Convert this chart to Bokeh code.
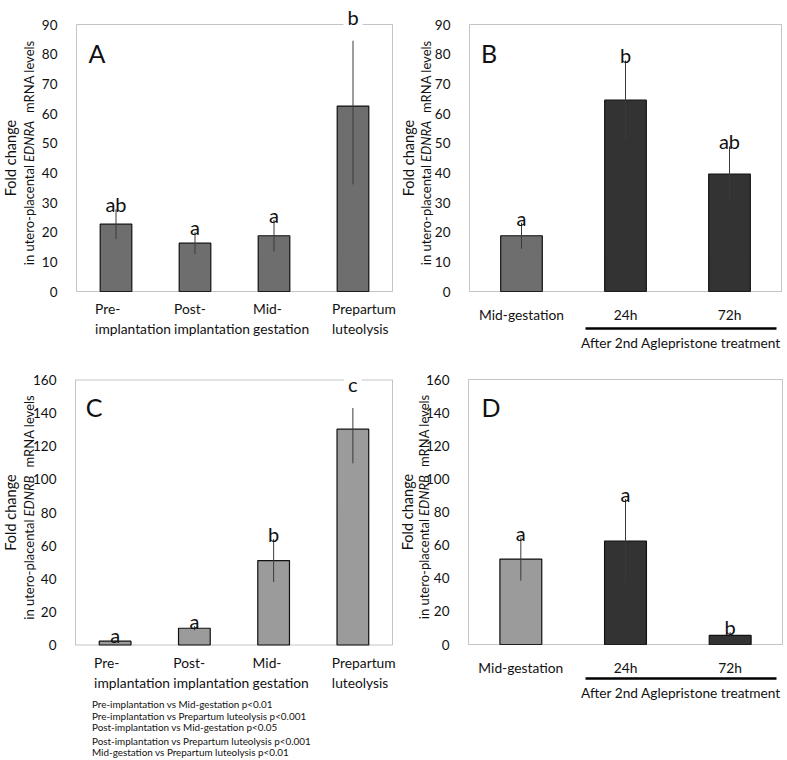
import math
from bokeh.plotting import figure
from bokeh.models import Range1d, FixedTicker, LinearAxis, Label, BoxAnnotation
from bokeh.layouts import column, row
from bokeh.embed import file_html
from bokeh.resources import INLINE

# ---------------- data ----------------
groups_AC = [("Pre-", "implantation"), ("Post-", "implantation"),
             ("Mid-", "gestation"), ("Prepartum", "luteolysis")]
groups_BD = ["Mid-gestation", "24h", "72h"]

ednra_A_mean = [22.7, 16.3, 18.8, 62.5]
ednra_A_err = [5.0, 3.7, 5.3, 26.4]
ednra_A_sig = ["ab", "a", "a", "b"]

ednra_B_mean = [18.8, 64.5, 39.6]
ednra_B_err = [4.4, 13.4, 9.3]
ednra_B_sig = ["a", "b", "ab"]

ednrb_C_mean = [2.3, 10.1, 51.0, 130.3]
ednrb_C_err = [0.6, 1.3, 13.0, 20.6]
ednrb_C_sig = ["a", "a", "b", "c"]

ednrb_D_mean = [51.6, 62.5, 5.5]
ednrb_D_err = [13.0, 25.3, 2.0]
ednrb_D_sig = ["a", "a", "b"]

ednra_ticks = [0, 10, 20, 30, 40, 50, 60, 70, 80, 90]
ednrb_ticks = [0, 20, 40, 60, 80, 100, 120, 140, 160]

treatment_label = "After 2nd Aglepristone treatment"
pvalue_notes = [
    "Pre-implantation vs Mid-gestation p<0.01",
    "Pre-implantation vs Prepartum luteolysis p<0.001",
    "Post-implantation vs Mid-gestation p<0.05",
    "Post-implantation vs Prepartum luteolysis p<0.001",
    "Mid-gestation vs Prepartum luteolysis p<0.01",
]

# ---------------- styling ----------------
FONT = "Lato"
MID_GRAY = "#6e6e6e"
LIGHT_GRAY = "#9b9b9b"
DARK = "#333333"
TXT = "#111111"


def panel(col_x, row_y, W, H, frame, labels, ymax, yticks, means, errs, sigs,
          colors, gene, letter, letter_pos, ylab_x, two_line, bracket=None):
    L, R, T, B = frame
    fl, fr = L - col_x, R - col_x
    ft, fb = T - row_y, B - row_y
    n = len(labels)
    kx = n / (fr - fl)          # data units per pixel
    ky = ymax / (fb - ft)
    x_lo = -0.5 - fl * kx
    x_hi = x_lo + W * kx
    y_lo = -(H - fb) * ky
    y_hi = y_lo + H * ky

    p = figure(width=W, height=H, x_range=Range1d(x_lo, x_hi), y_range=Range1d(y_lo, y_hi),
               output_backend="svg", toolbar_location=None, min_border=0)
    p.min_border_left = p.min_border_right = p.min_border_top = p.min_border_bottom = 0

    def X(rx):
        return x_lo + (rx - col_x) * kx

    def Y(ry):
        return y_hi - (ry - row_y) * ky

    def DY(px):
        return px * ky

    p.xgrid.visible = False
    p.ygrid.visible = False
    p.outline_line_color = None
    p.background_fill_color = "white"
    p.border_fill_color = "white"

    # y axis, pinned to the left edge of the plot box
    ya = p.yaxis[0]
    ya.fixed_location = -0.5
    ya.bounds = (0, ymax)
    ya.ticker = FixedTicker(ticks=yticks)
    ya.major_tick_line_color = None
    ya.minor_tick_line_color = None
    ya.axis_line_color = None
    ya.major_label_standoff = 13
    ya.major_label_text_font = FONT
    ya.major_label_text_font_size = "13.5px"
    ya.major_label_text_color = TXT

    xs = list(range(n))
    xa = p.xaxis[0]
    xa.fixed_location = 0
    xa.bounds = (-0.5, n - 0.5)
    xa.major_tick_line_color = None
    xa.minor_tick_line_color = None
    xa.axis_line_color = None
    if two_line:
        xa.ticker = FixedTicker(ticks=[])
        for i, (l1, l2) in enumerate(labels):
            for txt, dy in ((l1, 17), (l2, 37)):
                p.add_layout(Label(x=i - 0.265, y=Y(B + dy), text=txt,
                                   text_align="left", text_baseline="middle",
                                   text_font=FONT, text_font_size="13.8px",
                                   text_color=TXT))
    else:
        xa.ticker = FixedTicker(ticks=xs)
        xa.major_label_overrides = {i: lab for i, lab in zip(xs, labels)}
        xa.major_label_standoff = 8
        xa.major_label_text_font = FONT
        xa.major_label_text_font_size = "13.8px"
        xa.major_label_text_color = TXT

    # plot box
    p.add_layout(BoxAnnotation(left=-0.5, right=n - 0.5, bottom=0, top=ymax,
                               fill_color=None, fill_alpha=0,
                               line_color="#3a3a3a", line_width=1))

    # bars and error bars
    p.vbar(x=xs, top=means, bottom=0, width=0.4, fill_color=colors,
           line_color="#111111", line_width=1.2)
    p.segment(x0=xs, y0=[m - e for m, e in zip(means, errs)],
              x1=xs, y1=[m + e for m, e in zip(means, errs)],
              line_color="#3a3a3a", line_width=1)

    # significance letters
    for i, (m, e, s) in enumerate(zip(means, errs, sigs)):
        top = m + e
        if top > 0.9 * ymax:
            p.add_layout(Label(x=i, y=top + DY(11), text=s, text_align="center",
                               text_baseline="alphabetic", text_font=FONT,
                               text_font_size="20px", text_color=TXT,
                               background_fill_color="white", padding=(4, 12)))
        else:
            p.add_layout(Label(x=i, y=top + DY(5), text=s, text_align="center",
                               text_baseline="alphabetic", text_font=FONT,
                               text_font_size="20px", text_color=TXT))

    # panel letter
    p.add_layout(Label(x=X(letter_pos[0]), y=Y(letter_pos[1]), text=letter,
                       text_align="center", text_baseline="middle",
                       text_font=FONT, text_font_size="25px", text_color=TXT))

    # y axis title (two lines, gene name in italics)
    cy = (T + B) / 2.0
    yl = "13px"
    p.add_layout(Label(x=X(ylab_x[0]), y=Y(cy), text="Fold change", angle=math.pi / 2,
                       text_align="center", text_baseline="middle",
                       text_font=FONT, text_font_size="14.5px", text_color=TXT))
    p.add_layout(Label(x=X(ylab_x[1]), y=Y(cy + 7), text="in utero-placental",
                       angle=math.pi / 2, text_align="right", text_baseline="middle",
                       text_font=FONT, text_font_size=yl, text_color=TXT))
    p.add_layout(Label(x=X(ylab_x[1]), y=Y(cy + 4), text=gene,
                       angle=math.pi / 2, text_align="left", text_baseline="middle",
                       text_font=FONT, text_font_style="italic",
                       text_font_size=yl, text_color=TXT))
    p.add_layout(Label(x=X(ylab_x[1]), y=Y(cy - 45), text="mRNA levels",
                       angle=math.pi / 2, text_align="left", text_baseline="middle",
                       text_font=FONT, text_font_size=yl, text_color=TXT))

    if bracket is not None:
        line_y, text_y, bx0, bx1 = bracket
        br = LinearAxis(ticker=FixedTicker(ticks=[]), fixed_location=Y(line_y),
                        bounds=(X(bx0), X(bx1)),
                        axis_line_width=2.5, axis_line_color="black",
                        major_tick_line_color=None, minor_tick_line_color=None,
                        major_label_text_font_size="0px")
        p.add_layout(br, "below")
        p.add_layout(Label(x=(X(bx0) + X(bx1)) / 2, y=Y(text_y), text=treatment_label,
                           text_align="center", text_baseline="middle",
                           text_font=FONT, text_font_size="13.7px", text_color=TXT))
    return p, X, Y


pA, _, _ = panel(0, 0, 400, 356, (76, 392, 24, 291), groups_AC, 90, ednra_ticks,
                 ednra_A_mean, ednra_A_err, ednra_A_sig, [MID_GRAY] * 4, "EDNRA",
                 "A", (96.5, 52), (10, 28), True)
pB, _, _ = panel(400, 0, 386, 356, (469, 781, 24, 291), groups_BD, 90, ednra_ticks,
                 ednra_B_mean, ednra_B_err, ednra_B_sig, [MID_GRAY, DARK, DARK], "EDNRA",
                 "B", (488.5, 52), (408.3, 425.7), False,
                 bracket=(327.7, 341.7, 585, 776))
pC, XC, YC = panel(0, 356, 400, 403, (75, 392, 379.5, 644.5), groups_AC, 160, ednrb_ticks,
                   ednrb_C_mean, ednrb_C_err, ednrb_C_sig, [LIGHT_GRAY] * 4, "EDNRB",
                   "C", (93.5, 406.7), (10, 28), True)
pD, _, _ = panel(400, 356, 386, 403, (468, 782, 379, 644), groups_BD, 160, ednrb_ticks,
                 ednrb_D_mean, ednrb_D_err, ednrb_D_sig, [LIGHT_GRAY, DARK, DARK], "EDNRB",
                 "D", (490.5, 406.7), (406.7, 423.3), False,
                 bracket=(677.7, 691.7, 585, 776))

# p-value notes under panel C
note_y = [703.3, 715.7, 726.7, 740.0, 751.7]
for txt, ry in zip(pvalue_notes, note_y):
    pC.add_layout(Label(x=XC(91.5), y=YC(ry), text=txt, text_align="left",
                        text_baseline="middle", text_font=FONT,
                        text_font_size="9.9px", text_color=TXT))

layout = column(row(pA, pB), row(pC, pD))
open("out.html", "w").write(file_html(layout, INLINE))
